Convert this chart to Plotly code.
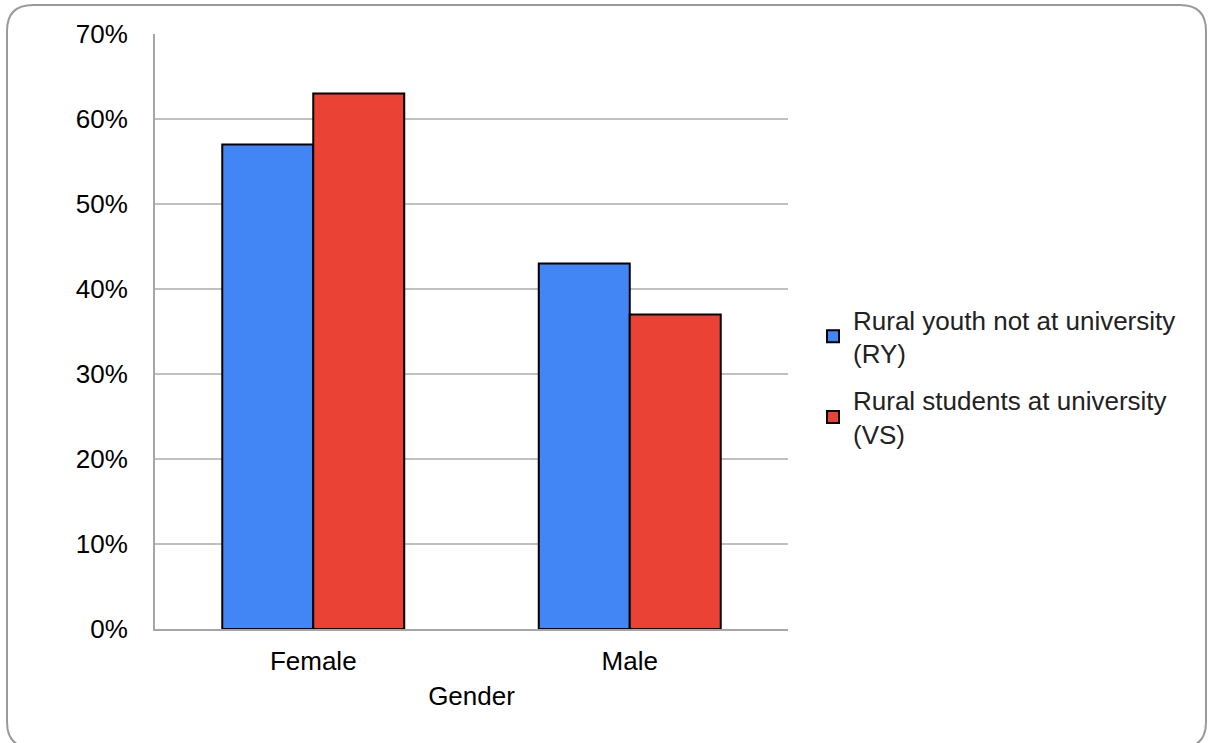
import plotly.graph_objects as go

categories = ["Female", "Male"]
series_names = ["Rural youth not at university<br>(RY)", "Rural students at university<br>(VS)"]
ry_values = [0.57, 0.43]
vs_values = [0.63, 0.37]
colors = ["#4285F4", "#EA4335"]
y_ticks = [0, 0.1, 0.2, 0.3, 0.4, 0.5, 0.6, 0.7]

W, H = 1208, 743
L, R, T, B = 155, 788, 34, 629
pw, ph = R - L, B - T

def px(x):
    return (x - L) / pw

def py(y):
    return (B - y) / ph

font = "Liberation Sans, Arial, sans-serif"

fig = go.Figure()
for i, (name, vals, col) in enumerate(zip(series_names, [ry_values, vs_values], colors)):
    fig.add_trace(go.Bar(
        x=categories, y=vals, name=name, legendgroup=f"g{i}",
        marker=dict(color=col, line=dict(color="#000000", width=2)),
    ))

# rounded border around the whole chart
x0, x1, y0, y1, r = 7, 1206, 5, 748, 26
path = (
    f"M {px(x0 + r)} {py(y0)} L {px(x1 - r)} {py(y0)} Q {px(x1)} {py(y0)} {px(x1)} {py(y0 + r)} "
    f"L {px(x1)} {py(y1 - r)} Q {px(x1)} {py(y1)} {px(x1 - r)} {py(y1)} "
    f"L {px(x0 + r)} {py(y1)} Q {px(x0)} {py(y1)} {px(x0)} {py(y1 - r)} "
    f"L {px(x0)} {py(y0 + r)} Q {px(x0)} {py(y0)} {px(x0 + r)} {py(y0)} Z"
)

fig.update_layout(
    width=W, height=H,
    margin=dict(l=L, r=W - R, t=T, b=H - B, autoexpand=False),
    paper_bgcolor="white", plot_bgcolor="white",
    font=dict(family=font, size=26, color="#000000"),
    barmode="group", bargap=0.425, bargroupgap=0,
    showlegend=True,
    legend=dict(x=px(813), y=py(377), xanchor="left", yanchor="middle",
                font=dict(size=26, color="#222222"), tracegroupgap=10,
                bgcolor="rgba(0,0,0,0)"),
    xaxis=dict(
        title=dict(text="Gender", font=dict(size=26), standoff=12),
        showline=True, linecolor="#a6a6a6", linewidth=2,
        ticks="", showgrid=False, tickfont=dict(size=26),
        ticklabelstandoff=8,
    ),
    yaxis=dict(
        range=[0, 0.7], tickvals=y_ticks, tickformat=".0%",
        showline=True, linecolor="#a6a6a6", linewidth=2,
        showgrid=True, gridcolor="#c0c0c0", gridwidth=2,
        zeroline=False, ticks="", ticklen=0, tickfont=dict(size=26),
        ticklabelstandoff=20,
    ),
    shapes=[dict(type="path", xref="paper", yref="paper", path=path,
                 line=dict(color="#9a9a9a", width=2), layer="above")],
)

fig.write_html("out.html", config={"displayModeBar": False},
               post_script="document.body.style.margin='0';document.body.style.overflow='hidden';")
